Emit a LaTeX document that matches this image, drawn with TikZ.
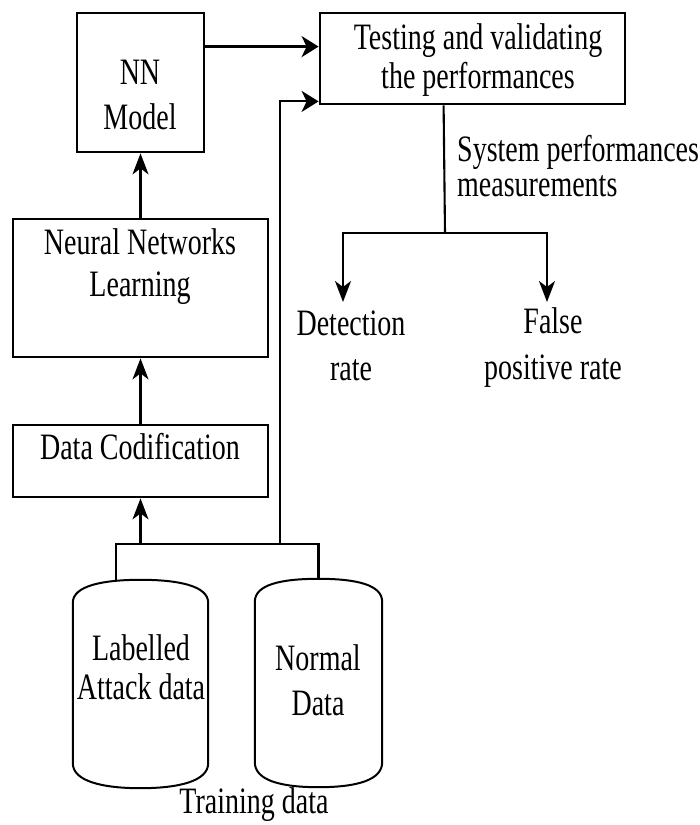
\documentclass[tikz,border=0pt]{standalone}
\usepackage{fontspec}
\setmainfont{Liberation Serif}
\usepackage{graphicx}
\usetikzlibrary{arrows.meta,calc}
\newcommand{\tx}[2][31]{\scalebox{1}[1.33]{\fontsize{28}{#1}\selectfont\begin{tabular}{@{}c@{}}#2\end{tabular}}}
\newcommand{\txl}[2][31]{\scalebox{1}[1.33]{\fontsize{28}{#1}\selectfont\begin{tabular}{@{}l@{}}#2\end{tabular}}}
\tikzset{
  boxnode/.style={draw, line width=2.8pt, rectangle, inner sep=0pt},
  cylnode/.style={rectangle, inner sep=0pt},
  cylline/.style={line width=2pt},
  conn/.style={line width=2.1pt},
  varr/.style={conn, -{Stealth[length=21pt,width=16pt,inset=6pt]}},
  harr/.style={conn, -{Stealth[length=17pt,width=21pt,inset=5pt]}},
  lbl/.style={inner sep=0pt}
}
\begin{document}
\begin{tikzpicture}[x=1pt,y=-1pt]
\useasboundingbox (0,0) rectangle (700,825);
% boxes
\node[boxnode, minimum width=127pt, minimum height=139pt] (nn) at (140.5,82.5) {};
\node[lbl] (nnT) at (140,98) {\tx[34]{NN\\Model}};
\node[boxnode, minimum width=305pt, minimum height=91pt] (test) at (472.5,58.5) {};
\node[lbl] (testT) at (478,61) {\tx[29.5]{Testing and validating\\the performances}};
\node[boxnode, minimum width=255pt, minimum height=138pt] (nnl) at (140.5,288) {};
\node[lbl] (nnlT) at (140,267) {\tx[32]{Neural Networks\\Learning}};
\node[boxnode, minimum width=255pt, minimum height=72pt] (dc) at (140.5,461) {};
\node[lbl] (dcT) at (140,451) {\tx{Data Codification}};
% cylinders
\node[cylnode, minimum width=135pt, minimum height=208pt] (c1) at (140.5,684) {};
\node[cylnode, minimum width=127pt, minimum height=208pt] (c2) at (318.5,683) {};
\foreach \c in {c1, c2}{
  \draw[cylline] ($(\c.north west)+(0,23)$)
    .. controls +(0,-17) and +(-38,0) .. (\c.north)
    .. controls +(38,0) and +(0,-17) .. ($(\c.north east)+(0,23)$)
    -- ($(\c.south east)+(0,-25)$)
    .. controls +(0,18) and +(38,0) .. (\c.south)
    .. controls +(-38,0) and +(0,18) .. ($(\c.south west)+(0,-25)$)
    -- cycle;
}
\node[lbl] (c1T) at (141,672) {\tx[30]{Labelled\\Attack data}};
\node[lbl] (c2T) at (318,684) {\tx[34]{Normal\\Data}};
\node[lbl] (train) at (254,805) {\tx{Training data}};
% output texts
\node[lbl, anchor=west] (sys) at (457,171) {\txl[26.3]{System performances\\measurements}};
\node[lbl] (det) at (351,349) {\tx[34]{Detection\\rate}};
\node[lbl] (fpr) at (553,347) {\tx[35]{False\\positive rate}};
% coordinates
\coordinate (a1) at ($(nn.north east)+(0,35)$);
\coordinate (cL) at (116,580.8);
\coordinate (bL) at (116,544);
\coordinate (bR) at (c2.north |- bL);
\coordinate (bM) at (280,544);
\coordinate (tIn) at ($(test.south west)+(0,-4)$);
\coordinate (tS) at ($(test.south west)+(125,0)$);
\coordinate (sp) at (445,233);
\coordinate (dL) at (343,302);
\coordinate (dR) at (547,302);
% connectors
\draw[harr, line width=2.8pt] (a1) -- (a1 -| test.west);
\draw[varr] (nnl.north) -- (nn.south);
\draw[varr] (dc.north) -- (nnl.south);
\draw[conn] (cL) -- (bL) -- (bR) -- (c2.north);
\draw[varr] (dc.south |- bL) -- (dc.south);
\draw[harr] (bM) |- (tIn);
\draw[conn] (tS) -- (sp);
\draw[varr] (sp) -| (dL);
\draw[varr] (sp) -| (dR);
\end{tikzpicture}
\end{document}
